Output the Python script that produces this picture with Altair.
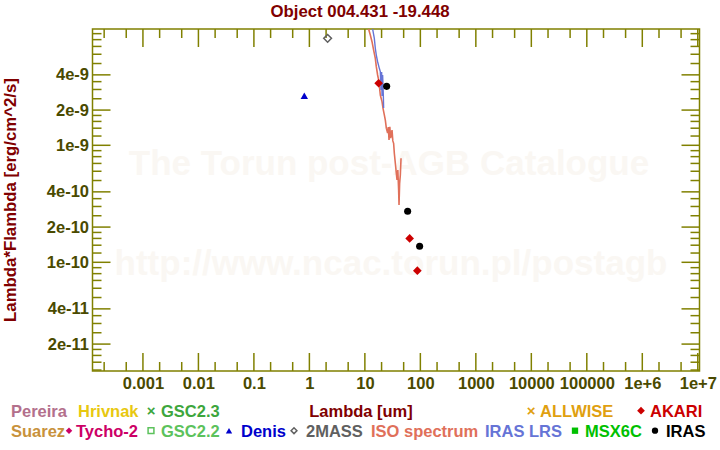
import altair as alt
import pandas as pd
import math

# ---------------- data ----------------
twomass_wl = [2.13]
twomass_f = [8.21e-9]
denis_wl = [0.81]
denis_f = [2.65e-9]
akari_wl = [17.7, 64.1, 88.2]
akari_f = [3.39e-9, 1.60e-10, 8.48e-11]
iras_wl = [24.7, 59.0, 97.0]
iras_f = [3.19e-9, 2.73e-10, 1.37e-10]

iso_wl = [11.3, 11.68, 12.53, 13.45, 14.38, 15.42, 16.07, 16.97, 17.69, 18.45, 18.98,
          20.37, 21.24, 22.41, 23.37, 24.36, 25.70, 26.47, 27.25, 28.17, 29.12,
          30.86, 31.90, 32.98, 33.95, 35.40, 36.90, 37.98, 39.26, 40.59, 41.27,
          42.31, 43.55, 44.84]
iso_f = [1.1e-8, 9.86e-9, 8.77e-9, 7.68e-9, 6.52e-9, 5.54e-9, 4.70e-9, 3.99e-9, 3.62e-9,
         3.07e-9, 2.69e-9, 2.36e-9, 2.07e-9, 1.82e-9, 1.64e-9, 1.40e-9, 1.27e-9,
         1.43e-9, 1.11e-9, 1.44e-9, 1.15e-9, 1.35e-9, 1.09e-9, 1.04e-9, 8.55e-10,
         7.02e-10, 5.76e-10, 5.05e-10, 6.15e-10, 4.15e-10, 3.09e-10, 4.73e-10,
         5.57e-10, 7.74e-10]

lrs_wl = [13.4, 13.79, 14.80, 15.42, 16.07, 16.97, 18.21, 18.98, 19.54, 20.04, 20.37,
          20.89, 21.50, 21.78]
lrs_f = [1.1e-8, 9.86e-9, 8.21e-9, 6.75e-9, 5.91e-9, 5.18e-9, 4.55e-9, 4.26e-9, 2.97e-9,
         4.23e-9, 2.64e-9, 3.99e-9, 2.69e-9, 2.08e-9]

title_text = "Object 004.431 -19.448"
x_title = "Lambda [um]"
y_title = "Lambda*Flambda [erg/cm^2/s]"
watermark = ["The Torun post-AGB Catalogue", "http://www.ncac.torun.pl/postagb"]

x_label_values = [0.001, 0.01, 0.1, 1, 10, 100, 1000, 10000, 100000, 1e6, 1e7]
x_label_texts = ["0.001", "0.01", "0.1", "1", "10", "100", "1000", "10000", "100000",
                 "1e+6", "1e+7"]
y_label_values = [2e-11, 4e-11, 1e-10, 2e-10, 4e-10, 1e-9, 2e-9, 4e-9]

legend_labels = ["Pereira", "Hrivnak", "GSC2.3", "ALLWISE", "AKARI",
                 "Suarez", "Tycho-2", "GSC2.2", "Denis", "2MASS",
                 "ISO spectrum", "IRAS LRS", "MSX6C", "IRAS"]
legend_colors = ["#b3708c", "#e8c810", "#3da63d", "#e0a010", "#cc0000",
                 "#c8923c", "#cc0066", "#5cc25c", "#0000cc", "#606060",
                 "#e0705a", "#6674d6", "#00c000", "#000000"]
legend_symbols = [None, None, "x", "x", "diamond",
                  None, "diamond", "square-open", "triangle-up", "diamond-open",
                  None, None, "square", "circle"]

# ---------------- layout ----------------
W, H = 607, 342
PAD_L, PAD_T = 92.5, 29
FONT = "Liberation Sans"
FS = 16.5
OLIVE = "#808000"
LABEL_C = "#4a4a00"
DARKRED = "#800000"
WM_C = "#faf7f3"

# legend layout: (text x, baseline y, symbol x) in page pixels
legend_layout = [(11, 416.7, None), (78, 416.7, None), (161, 416.7, 151),
                 (540, 416.7, 531), (650, 416.7, 641),
                 (11, 436.7, None), (76, 436.7, 69), (161, 436.7, 151),
                 (241, 436.7, 229), (306, 436.7, 294),
                 (371, 436.7, None), (485, 436.7, None), (585, 436.7, 575),
                 (666, 436.7, 655)]

xs = alt.Scale(type="log", domain=[10 ** -3.909, 10 ** 7.031], nice=False)
ys = alt.Scale(type="log", domain=[10 ** -10.929, 10 ** -8.006], nice=False)

# label expression built from the tick label lists
x_expr = "".join(
    f"round(log(datum.value)/LN10) == {round(math.log10(v))} ? '{t}' : "
    for v, t in zip(x_label_values, x_label_texts)) + "''"

xaxis = alt.Axis(values=x_label_values, labelExpr=x_expr, labelFont=FONT, labelFontSize=FS,
                 labelFontWeight="bold", labelColor=LABEL_C, ticks=False, domain=False,
                 grid=False, title=None, labelPadding=4, labelFlush=False,
                 labelOverlap=False)
yaxis = alt.Axis(values=y_label_values, format=".0e", labelFont=FONT, labelFontSize=FS,
                 labelFontWeight="bold", labelColor=LABEL_C, ticks=False, domain=False,
                 grid=False, title=None, labelPadding=4, labelFlush=False,
                 labelOverlap=False)

X = lambda f: alt.X(f, type="quantitative", scale=xs, axis=xaxis)
Y = lambda f: alt.Y(f, type="quantitative", scale=ys, axis=yaxis)

one = alt.Data(values=[{"a": 1}])


def text_at(txt, px, py, color, size=FS, align="left", baseline="alphabetic", angle=0,
            weight="bold"):
    kw = dict(font=FONT, fontSize=size, fontWeight=weight, color=color, align=align,
              baseline=baseline)
    if angle:
        kw["angle"] = angle
    return alt.Chart(one).mark_text(**kw).encode(
        x=alt.value(px - PAD_L), y=alt.value(py - PAD_T), text=alt.value(txt))


layers = []

# watermark
layers.append(text_at(watermark[0], 389, 175, WM_C, size=35, align="center"))
layers.append(text_at(watermark[1], 391, 275, WM_C, size=35, align="center"))

# tick marks (inward, on all four sides)
def in_dom(v, dom):
    return dom[0] <= v <= dom[1]

xdom = xs.domain
ydom = ys.domain
x_major = [10.0 ** k for k in range(-4, 8) if in_dom(10.0 ** k, xdom)]
x_minor = [m * 10.0 ** k for k in range(-4, 8) for m in (2, 5) if in_dom(m * 10.0 ** k, xdom)]
y_major = [m * 10.0 ** k for k in range(-12, -7) for m in (1, 2, 4) if in_dom(m * 10.0 ** k, ydom)]
y_minor = [m * 10.0 ** k for k in range(-12, -7)
           for m in (1.2, 1.4, 1.6, 1.8, 2.5, 3, 3.5, 5, 6, 7, 8, 9) if in_dom(m * 10.0 ** k, ydom)]

for vals, L in ((x_major, 18), (x_minor, 9)):
    df = pd.DataFrame({"v": vals})
    layers.append(alt.Chart(df).mark_rule(color=OLIVE, strokeWidth=1.5).encode(
        x=X("v"), y=alt.value(0), y2=alt.value(L)))
    layers.append(alt.Chart(df).mark_rule(color=OLIVE, strokeWidth=1.5).encode(
        x=X("v"), y=alt.value(H), y2=alt.value(H - L)))
for vals, L in ((y_major, 18), (y_minor, 9)):
    df = pd.DataFrame({"v": vals})
    layers.append(alt.Chart(df).mark_rule(color=OLIVE, strokeWidth=1.5).encode(
        y=Y("v"), x=alt.value(0), x2=alt.value(L)))
    layers.append(alt.Chart(df).mark_rule(color=OLIVE, strokeWidth=1.5).encode(
        y=Y("v"), x=alt.value(W), x2=alt.value(W - L)))

# spectra
iso_df = pd.DataFrame({"wl": iso_wl, "f": iso_f, "i": range(len(iso_wl))})
lrs_df = pd.DataFrame({"wl": lrs_wl, "f": lrs_f, "i": range(len(lrs_wl))})
layers.append(alt.Chart(iso_df).mark_line(color="#e0705a", strokeWidth=1.6, clip=True).encode(
    x=X("wl"), y=Y("f"), order="i:Q"))
layers.append(alt.Chart(lrs_df).mark_line(color="#6674d6", strokeWidth=1.4, clip=True).encode(
    x=X("wl"), y=Y("f"), order="i:Q"))

# photometry
def pts(wl, f, **mk):
    df = pd.DataFrame({"wl": wl, "f": f})
    return alt.Chart(df).mark_point(clip=True, **mk).encode(x=X("wl"), y=Y("f"))

layers.append(pts(twomass_wl, twomass_f, shape="diamond", filled=False, color="#606060",
                  strokeWidth=1.5, size=60, opacity=1))
layers.append(pts(denis_wl, denis_f, shape="triangle-up", filled=True, color="#0000cc",
                  size=55, opacity=1))
layers.append(pts(akari_wl, akari_f, shape="diamond", filled=True, color="#cc0000",
                  size=75, opacity=1))
layers.append(pts(iras_wl, iras_f, shape="circle", filled=True, color="#000000",
                  size=50, opacity=1))

# titles
layers.append(text_at(title_text, 360, 16.7, DARKRED, size=16.8, align="center"))
layers.append(text_at(x_title, 361, 416.7, DARKRED, align="center"))
layers.append(text_at(y_title, 11, PAD_T + H / 2, DARKRED, size=16.8, align="center",
                      baseline="middle", angle=270))

# legend
for lab, col, sym, (tx, ty, sx) in zip(legend_labels, legend_colors, legend_symbols,
                                        legend_layout):
    layers.append(text_at(lab, tx, ty, col))
    if sym is None:
        continue
    sy = ty - 6
    if sym == "x":
        layers.append(text_at("×", sx, ty - 1, col, size=15, align="center"))
        continue
    mk = dict(color=col, opacity=1)
    if sym.endswith("-open"):
        mk.update(shape=sym.replace("-open", ""), filled=False, strokeWidth=1.5, size=34)
    else:
        mk.update(shape=sym, filled=True, size=40 if sym != "diamond" else 42)
    if sym == "diamond" and col == "#cc0000":
        mk["size"] = 60
    layers.append(alt.Chart(one).mark_point(**mk).encode(
        x=alt.value(sx - PAD_L), y=alt.value(sy - PAD_T)))

chart = alt.layer(*layers).properties(
    width=W, height=H,
    autosize=alt.AutoSizeParams(type="none"),
    padding={"left": PAD_L, "top": PAD_T, "right": 720 - PAD_L - W, "bottom": 450 - PAD_T - H},
    background="white",
).configure_view(stroke=OLIVE, strokeWidth=1.5)

chart.save("out.html", embed_options={"renderer": "svg", "actions": False})
